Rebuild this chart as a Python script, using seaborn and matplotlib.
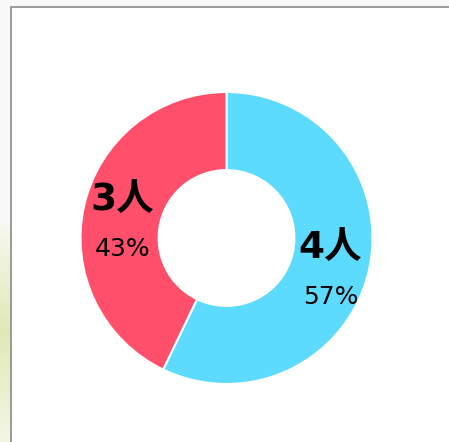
import numpy as np
import matplotlib
matplotlib.use('Agg')
import matplotlib.pyplot as plt
import seaborn as sns
from matplotlib.patches import Rectangle

sns.set_theme(style='white')
plt.rcParams['font.family'] = ['DejaVu Sans', 'Noto Sans CJK JP']

# data
labels = ['4人', '3人']
counts = [4, 3]
colors = ['#5cdbff', '#ff4f6b']

W, H = 449, 442
fig = plt.figure(figsize=(W / 100, H / 100), dpi=100)
fig.patch.set_facecolor('#f8f8f8')

# background: faint green strip + white panel with gray border (pixel coords)
bg = fig.add_axes([0, 0, 1, 1], zorder=0)
grad = np.linspace(0, 1, 100)[:, None]
cmap = matplotlib.colors.LinearSegmentedColormap.from_list('g', ['#f6f8ee', '#dfe9b8', '#f3f6e4'])
bg.imshow(grad, aspect='auto', cmap=cmap, extent=[0, 11, H, 225])
bg.add_patch(Rectangle((11, 7), W + 10, H + 10, facecolor='white', edgecolor='#8a8a8a', linewidth=1.2))
bg.set_xlim(0, W)
bg.set_ylim(H, 0)
bg.axis('off')

cx, cy, r = 226.5, 238, 146
ax = fig.add_axes([(cx - r) / W, (H - cy - r) / H, 2 * r / W, 2 * r / H], zorder=1)
ax.set_facecolor('none')

total = sum(counts)
wedges, _ = ax.pie(counts, colors=colors, startangle=90, counterclock=False, radius=1,
                   wedgeprops=dict(width=0.535, edgecolor='white', linewidth=1.5))

start = 90.0
for lab, c in zip(labels, counts):
    sweep = c / total * 360
    mid = np.deg2rad(start - sweep / 2)
    start -= sweep
    x = 0.73 * np.cos(mid)
    y = 0.73 * np.sin(mid) - 0.06
    ax.text(x, y + 0.15, lab, ha='center', va='center', fontsize=27, fontweight='bold', color='black')
    ax.text(x, y - 0.18, f'{c / total * 100:.0f}%', ha='center', va='center', fontsize=18, color='black')

ax.set_xlim(-1, 1)
ax.set_ylim(-1, 1)
ax.axis('off')

fig.savefig('out.png', dpi=100, facecolor=fig.get_facecolor())
